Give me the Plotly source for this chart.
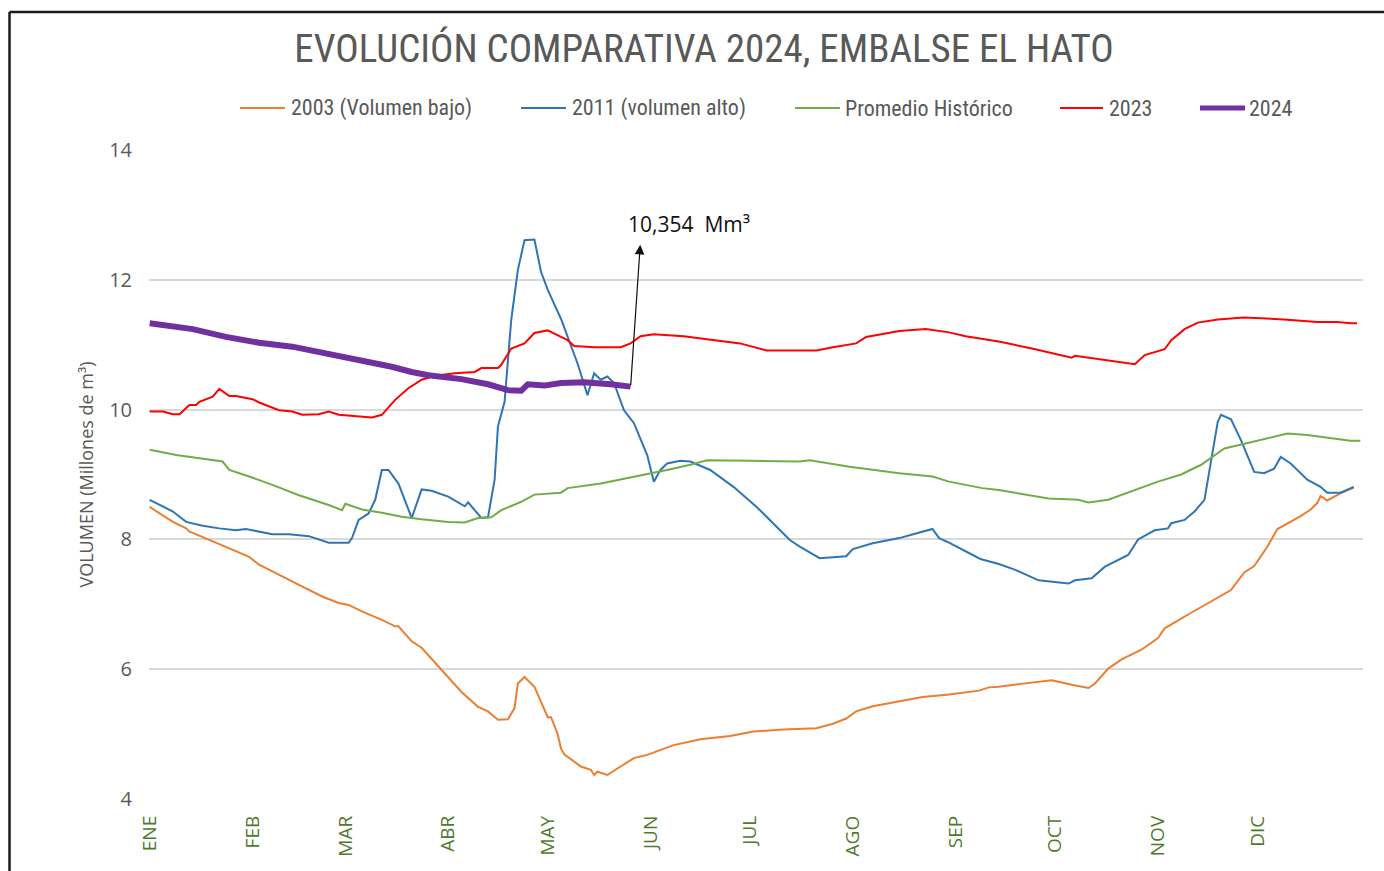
import plotly.graph_objects as go

# ---------------- data (day of year, volume in millones de m3) ----------------
month_days = [0, 31, 59, 90, 120, 151, 181, 212, 243, 273, 304, 334]
month_labels = ["ENE", "FEB", "MAR", "ABR", "MAY", "JUN", "JUL", "AGO", "SEP", "OCT", "NOV", "DIC"]

d2003 = [0, 3, 7, 11, 12, 13, 18, 24, 30, 33, 39, 45, 52, 57, 60, 64, 70, 74, 75, 79, 82, 88, 94, 99,
         102, 105, 108, 110, 111, 113, 116, 120, 121, 123, 124, 125, 130, 133, 134, 135, 138, 141, 146,
         150, 158, 166, 175, 182, 191, 201, 206, 210, 213, 218, 226, 233, 241, 250, 253, 256, 262, 272,
         278, 283, 285, 289, 293, 299, 304, 306, 314, 319, 326, 330, 333, 337, 340, 347, 350, 352, 353,
         355, 359, 363]
v2003 = [8.50, 8.40, 8.27, 8.17, 8.12, 8.10, 7.99, 7.87, 7.73, 7.61, 7.45, 7.30, 7.12, 7.02, 6.99, 6.89,
         6.76, 6.66, 6.66, 6.43, 6.33, 5.99, 5.65, 5.42, 5.35, 5.22, 5.23, 5.40, 5.78, 5.88, 5.73, 5.26,
         5.26, 5.00, 4.78, 4.69, 4.50, 4.45, 4.37, 4.42, 4.37, 4.47, 4.63, 4.68, 4.83, 4.92, 4.97, 5.04,
         5.07, 5.09, 5.16, 5.24, 5.35, 5.43, 5.50, 5.57, 5.61, 5.67, 5.72, 5.73, 5.77, 5.83, 5.76, 5.71,
         5.78, 6.01, 6.15, 6.30, 6.48, 6.63, 6.87, 7.02, 7.22, 7.49, 7.59, 7.89, 8.16, 8.36, 8.46, 8.56,
         8.67, 8.60, 8.71, 8.80]

d2011 = [0, 3, 7, 11, 16, 21, 26, 29, 37, 42, 48, 54, 57, 60, 61, 63, 66, 68, 70, 72, 75, 79, 82, 85,
         90, 95, 96, 100, 102, 104, 105, 107, 109, 111, 113, 116, 118, 120, 122, 124, 129, 132, 134, 136,
         138, 140, 143, 146, 150, 152, 154, 156, 160, 163, 169, 176, 183, 190, 193, 196, 202, 210, 212,
         218, 226, 231, 236, 238, 241, 250, 251, 256, 261, 268, 277, 279, 284, 288, 295, 298, 303, 307,
         308, 312, 315, 318, 320, 322, 323, 326, 329, 333, 336, 339, 341, 344, 349, 353, 355, 359, 363]
v2011 = [8.61, 8.53, 8.43, 8.27, 8.21, 8.17, 8.14, 8.16, 8.08, 8.08, 8.05, 7.95, 7.95, 7.95, 8.02, 8.30,
         8.40, 8.61, 9.07, 9.07, 8.86, 8.33, 8.77, 8.75, 8.66, 8.51, 8.57, 8.33, 8.34, 8.92, 9.74, 10.12,
         11.38, 12.15, 12.61, 12.62, 12.12, 11.85, 11.62, 11.40, 10.71, 10.22, 10.56, 10.46, 10.51, 10.41,
         9.99, 9.79, 9.30, 8.89, 9.07, 9.17, 9.21, 9.20, 9.07, 8.81, 8.50, 8.14, 7.99, 7.89, 7.71, 7.74,
         7.85, 7.94, 8.02, 8.09, 8.16, 8.02, 7.95, 7.71, 7.69, 7.62, 7.53, 7.37, 7.32, 7.37, 7.40, 7.58,
         7.76, 8.00, 8.14, 8.17, 8.25, 8.30, 8.43, 8.61, 9.22, 9.81, 9.92, 9.85, 9.53, 9.04, 9.02, 9.09,
         9.27, 9.17, 8.92, 8.81, 8.72, 8.72, 8.81]

d_prom = [0, 8, 15, 22, 24, 30, 37, 45, 54, 58, 59, 64, 70, 76, 82, 84, 90, 95, 99, 103, 106, 112, 116,
          124, 126, 136, 146, 156, 163, 168, 181, 196, 199, 211, 226, 236, 241, 246, 251, 256, 261, 271,
          280, 283, 289, 297, 304, 311, 317, 324, 330, 335, 343, 349, 356, 362, 365]
v_prom = [9.38, 9.30, 9.25, 9.20, 9.07, 8.97, 8.84, 8.68, 8.53, 8.45, 8.55, 8.46, 8.41, 8.35, 8.31, 8.30,
          8.27, 8.26, 8.33, 8.34, 8.45, 8.58, 8.69, 8.72, 8.79, 8.86, 8.96, 9.07, 9.15, 9.22, 9.21, 9.20,
          9.22, 9.12, 9.02, 8.97, 8.89, 8.84, 8.79, 8.76, 8.72, 8.63, 8.61, 8.57, 8.61, 8.76, 8.89, 9.00,
          9.15, 9.40, 9.47, 9.53, 9.63, 9.61, 9.56, 9.52, 9.52]

d2023 = [0, 4, 7, 9, 12, 14, 15, 19, 21, 24, 26, 31, 33, 39, 43, 46, 51, 54, 57, 64, 67, 70, 74, 78, 82,
         86, 92, 98, 100, 105, 106, 109, 113, 116, 120, 124, 126, 128, 134, 142, 145, 148, 152, 161, 171,
         178, 186, 193, 201, 206, 213, 216, 226, 234, 241, 246, 256, 266, 278, 279, 287, 297, 300, 305,
         306, 308, 312, 316, 322, 330, 342, 352, 358, 362, 364]
v2023 = [9.97, 9.97, 9.93, 9.93, 10.07, 10.07, 10.12, 10.20, 10.32, 10.21, 10.21, 10.16, 10.11, 9.99, 9.97,
         9.92, 9.93, 9.97, 9.92, 9.90, 9.88, 9.92, 10.15, 10.33, 10.46, 10.52, 10.56, 10.58, 10.64, 10.64,
         10.69, 10.94, 11.02, 11.18, 11.22, 11.12, 11.07, 10.98, 10.96, 10.96, 11.02, 11.13, 11.16, 11.13,
         11.06, 11.02, 10.91, 10.91, 10.91, 10.96, 11.02, 11.12, 11.21, 11.24, 11.19, 11.13, 11.05, 10.94,
         10.80, 10.83, 10.77, 10.70, 10.84, 10.92, 10.93, 11.07, 11.24, 11.34, 11.39, 11.42, 11.39, 11.35,
         11.35, 11.33, 11.33]

d2024 = [0, 13, 23, 33, 43, 54, 64, 73, 79, 84, 94, 102, 108, 112, 114, 119, 124, 131, 139, 145]
v2024 = [11.33, 11.24, 11.12, 11.03, 10.97, 10.86, 10.75, 10.66, 10.58, 10.53, 10.47, 10.39, 10.30,
         10.29, 10.39, 10.37, 10.41, 10.42, 10.39, 10.354]

last_label = "10,354\u00a0\u00a0Mm³"

# ---------------- layout helpers (pixel -> paper) ----------------
W, H = 1384, 871
ML, MR, MT, MB = 149, 21, 150, 72
PW, PH = W - ML - MR, H - MT - MB


def px_x(px):
    return (px - ML) / PW


def px_y(py):
    return (H - MB - py) / PH


GREY = "#595959"
COND = "Liberation Sans Narrow, Roboto Condensed, DejaVu Sans Condensed, Arial Narrow, sans-serif"
REG = "Open Sans, Noto Sans, DejaVu Sans, sans-serif"

series = [
    ("2003 (Volumen bajo)", d2003, v2003, "#ED7D31", 2),
    ("2011 (volumen alto)", d2011, v2011, "#2E75B6", 2),
    ("Promedio Histórico", d_prom, v_prom, "#70AD47", 2),
    ("2023", d2023, v2023, "#FF0000", 2),
    ("2024", d2024, v2024, "#7030A0", 6),
]

fig = go.Figure()
for name, xs, ys, col, w in series:
    fig.add_trace(go.Scatter(x=xs, y=ys, name=name, mode="lines",
                             line=dict(color=col, width=w), showlegend=False))

# manual legend (line sample + text)
leg_pos = [(240, 285, 289), (521, 566, 570), (795, 840, 843), (1060, 1103, 1107), (1200, 1245, 1247)]
shapes = []
annotations = []
LEG_Y = 108
for (name, _, _, col, w), (x0, x1, xt) in zip(series, leg_pos):
    shapes.append(dict(type="line", xref="paper", yref="paper",
                       x0=px_x(x0), x1=px_x(x1), y0=px_y(LEG_Y), y1=px_y(LEG_Y),
                       line=dict(color=col, width=w if w < 5 else 5)))
    annotations.append(dict(xref="paper", yref="paper", x=px_x(xt), y=px_y(LEG_Y),
                            text=name, showarrow=False, xanchor="left", yanchor="middle",
                            font=dict(family=COND, size=22, color=GREY)))

# frame lines (top + left)
shapes.append(dict(type="line", xref="paper", yref="paper", x0=px_x(9.5), x1=px_x(1384),
                   y0=px_y(12), y1=px_y(12), line=dict(color="#1a1a1a", width=2.5)))
shapes.append(dict(type="line", xref="paper", yref="paper", x0=px_x(9.5), x1=px_x(9.5),
                   y0=px_y(12), y1=px_y(871), line=dict(color="#1a1a1a", width=2.5)))

# arrow for last value of 2024
annotations.append(dict(x=147.9, y=12.54, ax=d2024[-1], ay=v2024[-1], xref="x", yref="y",
                        axref="x", ayref="y", text="", showarrow=True, arrowhead=2,
                        arrowsize=1.6, arrowwidth=1.2, arrowcolor="#111111", standoff=0,
                        startstandoff=0))
annotations.append(dict(x=162.5, y=12.86, xref="x", yref="y", text=last_label, showarrow=False,
                        xanchor="center", yanchor="middle",
                        font=dict(family=REG, size=21, color="#111111")))

fig.update_layout(
    width=W, height=H, autosize=False,
    margin=dict(l=ML, r=MR, t=MT, b=MB),
    paper_bgcolor="white", plot_bgcolor="white",
    title=dict(text="EVOLUCIÓN COMPARATIVA 2024, EMBALSE EL HATO", x=704 / W, xref="container",
               xanchor="center", y=1 - 48 / H, yref="container", yanchor="middle",
               font=dict(family=COND, size=39, color=GREY)),
    shapes=shapes,
    annotations=annotations,
    xaxis=dict(range=[-0.2, 365.8], tickmode="array", tickvals=month_days, ticktext=month_labels,
               tickangle=-90, showgrid=False, zeroline=False, showline=False, ticks="",
               ticklabelstandoff=12,
               tickfont=dict(family=REG, size=19, color="#4F7A2E")),
    yaxis=dict(range=[4, 14], tickvals=[4, 6, 8, 10, 12, 14], showgrid=True,
               gridcolor="#D9D9D9", gridwidth=1.5, zeroline=False, showline=False, ticks="",
               ticklabelstandoff=16,
               tickfont=dict(family=REG, size=20, color=GREY),
               title=dict(text="VOLUMEN (Millones de m³)", standoff=10,
                          font=dict(family=REG, size=18, color=GREY))),
)

fig.write_html("out.html", config={"displayModeBar": False},
               post_script="document.body.style.margin='0';")
